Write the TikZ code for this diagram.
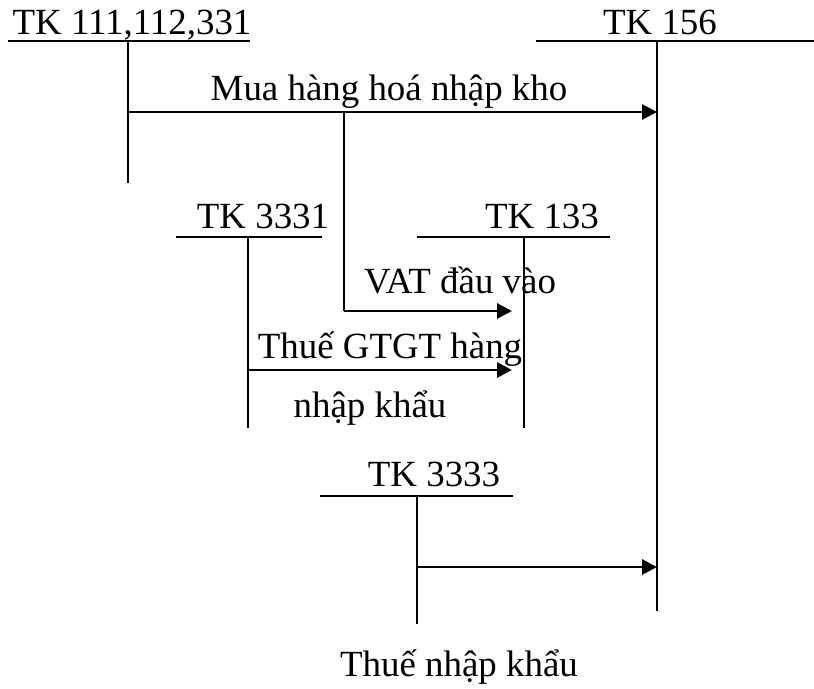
\documentclass[tikz,border=0pt]{standalone}
\usepackage{fontspec}
\setmainfont{Liberation Serif}
\usetikzlibrary{arrows.meta,positioning}

\begin{document}
\begin{tikzpicture}[x=0.02cm,y=-0.02cm,>={Triangle[length=0.3cm,width=0.3cm]},
	font=\fontsize{21}{25}\selectfont,
	tline/.style={line width=0.85pt},
	flow/.style={line width=1.7pt,->},
	lbl/.style={inner sep=0pt,anchor=base}]
		\useasboundingbox (0,0) rectangle (814,689);
		\fill[white] (0,0) rectangle (814,689);
		
		% tai khoan tien / phai tra
		\node[lbl] (tk111) at (132,35) {TK 111,112,331};
		\draw[tline] (8,41)--(250,41);
		\coordinate (top111) at (128,41);
		\coordinate (bot111) at (128,183);
		\draw[tline] (top111)--(bot111);
		
		% tai khoan hang hoa
		\node[lbl] (tk156) at (660,35) {TK 156};
		\draw[tline] (536,41)--(814,41);
		\coordinate (top156) at (657,41);
		\coordinate (bot156) at (657,611);
		\draw[tline] (top156)--(bot156);
		
		% mua hang nhap kho
		\coordinate (mua1) at (128,112);
		\coordinate (mua2) at (657,112);
		\draw[flow] (mua1)--(mua2);
		\node[lbl] (lblmua) at (389,101) {Mua hàng hoá nhập kho};
		
		% thue GTGT va VAT dau vao
		\node[lbl] (tk3331) at (263,228) {TK 3331};
		\draw[tline] (176,237)--(322,237);
		\coordinate (top3331) at (248,237);
		\coordinate (bot3331) at (248,428);
		\draw[tline] (top3331)--(bot3331);
		
		\node[lbl] (tk133) at (542,228) {TK 133};
		\draw[tline] (417,237)--(610,237);
		\coordinate (top133) at (524,237);
		\coordinate (bot133) at (524,428);
		\draw[tline] (top133)--(bot133);
		
		\coordinate (vat0) at (344,112);
		\coordinate (vat1) at (344,311);
		\coordinate (vat2) at (512,311);
		\draw[tline] (vat0)--(vat1);
		\draw[flow] (vat1)--(vat2);
		\node[lbl] (lblvat) at (460,293) {VAT đầu vào};
		
		\coordinate (gt1) at (248,370);
		\coordinate (gt2) at (512,370);
		\draw[flow] (gt1)--(gt2);
		\node[lbl] (lblgt) at (390,358) {Thuế GTGT hàng};
		\node[lbl] (lblgtb) at (370,417) {nhập khẩu};
		
		% thue nhap khau
		\node[lbl] (tk3333) at (434,486) {TK 3333};
		\draw[tline] (320,496)--(513,496);
		\coordinate (top3333) at (417,496);
		\coordinate (bot3333) at (417,624);
		\draw[tline] (top3333)--(bot3333);
		
		\coordinate (nk1) at (417,567);
		\coordinate (nk2) at (657,567);
		\draw[flow] (nk1)--(nk2);
		\node[lbl] (lblnk) at (459,676) {Thuế nhập khẩu};
	\end{tikzpicture}
\end{document}
